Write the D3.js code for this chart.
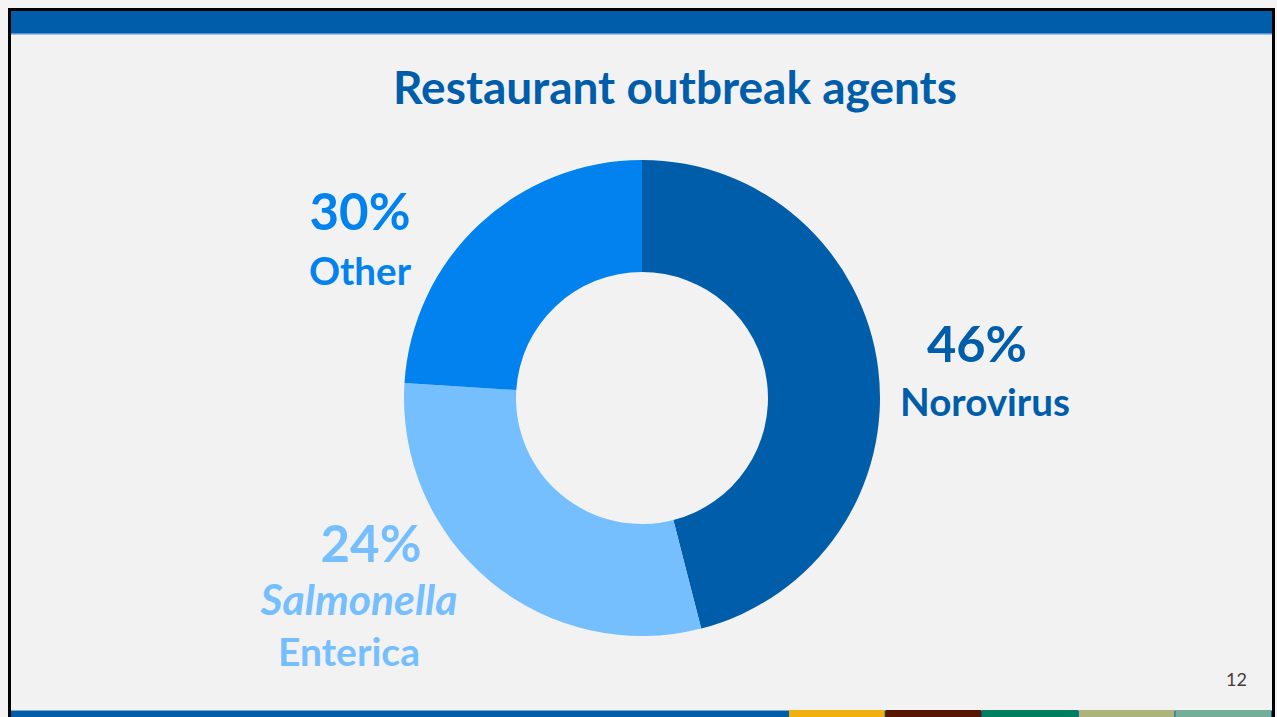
<!DOCTYPE html>
<html>
<head>
<meta charset="utf-8">
<script src="https://cdn.jsdelivr.net/npm/d3@7"></script>
<style>
  body { margin: 0; background: #f4f4f4; }
  svg { display: block; }
</style>
</head>
<body>
<div class="chart"></div>
<script>
let FRAME_WIDTH = 1277;
let FRAME_HEIGHT = 717;

// data
const TITLE = "Restaurant outbreak agents";
const AGENTS = ["Norovirus", "Salmonella Enterica", "Other"];
// slice sizes as they are drawn (clockwise from 12 o'clock)
const SLICE_SHARES = [46, 30, 24];
// percentages printed next to the ring
const LABEL_PCTS = ["46%", "24%", "30%"];
const PAGE_NUMBER = "12";
const FOOTER_SEGMENTS = ["blue", "yellow", "brown", "green", "olive", "teal"];

const COLORS = d3.scaleOrdinal()
                .domain(AGENTS)
                .range(["#005daa", "#75bfff", "#0282ef"]);

const FOOTER_COLORS = {blue: "#005daa", yellow: "#f0b110", brown: "#561800",
                       green: "#007e5e", olive: "#adb47a", teal: "#74ae98"};

let FRAME = d3.select(".chart")
              .append("svg")
              .attr("width", FRAME_WIDTH)
              .attr("height", FRAME_HEIGHT);

// slide body + border
FRAME.append("rect")
     .attr("x", 0).attr("y", 0)
     .attr("width", FRAME_WIDTH).attr("height", FRAME_HEIGHT)
     .attr("fill", "#f4f4f4");

FRAME.append("rect")
     .attr("x", 11).attr("y", 11)
     .attr("width", 1261).attr("height", 710)
     .attr("fill", "#f2f2f2");

// header band
FRAME.append("rect")
     .attr("x", 11).attr("y", 11)
     .attr("width", 1261).attr("height", 23)
     .attr("fill", "#005daa");
FRAME.append("rect")
     .attr("x", 11).attr("y", 33)
     .attr("width", 1261).attr("height", 1.5)
     .attr("fill", "#4f94cf");

// footer stripe
FRAME.append("rect")
     .attr("x", 11).attr("y", 711)
     .attr("width", 1261).attr("height", 6)
     .attr("fill", "#005daa");
FRAME.append("rect")
     .attr("x", 11).attr("y", 710)
     .attr("width", 1261).attr("height", 1)
     .attr("fill", "#7fa9cf");

let FOOT_X = d3.scaleBand()
               .domain(FOOTER_SEGMENTS.slice(1))
               .range([789, 1272]);

FRAME.selectAll(".foot")
     .data(FOOTER_SEGMENTS.slice(1))
     .enter()
     .append("rect")
       .attr("class", "foot")
       .attr("x", (d) => FOOT_X(d))
       .attr("y", 710)
       .attr("width", FOOT_X.bandwidth() - 1)
       .attr("height", 7)
       .attr("fill", (d) => FOOTER_COLORS[d]);

// black frame lines (left, top, right)
FRAME.append("path")
     .attr("d", "M9.5,717 V9.5 H1273.5 V717")
     .attr("fill", "none")
     .attr("stroke", "#000")
     .attr("stroke-width", 3);

// shrink/grow a text node so it spans the given width
function fitWidth(sel, width) {
    sel.each(function() {
        let size = parseFloat(d3.select(this).style("font-size"));
        let w = this.getComputedTextLength();
        d3.select(this).style("font-size", (size * width / w) + "px");
    });
}

// title
FRAME.append("text")
     .attr("x", 675)
     .attr("y", 104)
     .attr("text-anchor", "middle")
     .style("font-family", "Lato, 'Open Sans', sans-serif")
     .style("font-weight", "bold")
     .style("font-size", "40px")
     .attr("fill", "#005daa")
     .text(TITLE)
     .call(fitWidth, 564);

// donut
let CX = 642, CY = 398;

let pie = d3.pie()
            .sort(null)
            .value((d) => d.share);

let arc = d3.arc()
            .innerRadius(126)
            .outerRadius(238);

let slices = AGENTS.map((a, i) => ({agent: a, share: SLICE_SHARES[i]}));

FRAME.append("g")
     .attr("transform", "translate(" + CX + "," + CY + ")")
     .selectAll("path")
     .data(pie(slices))
     .enter()
     .append("path")
       .attr("d", arc)
       .attr("fill", (d) => COLORS(d.data.agent));

// labels: each line = [text, center x, baseline, width, italic]
let LABELS = [
    {agent: "Norovirus", lines: [
        [LABEL_PCTS[0], 977, 362, 100, false],
        ["Norovirus", 985, 416, 170, false]]},
    {agent: "Salmonella Enterica", lines: [
        [LABEL_PCTS[1], 371, 562, 101, false],
        ["Salmonella", 359, 615, 197, true],
        ["Enterica", 349, 666, 142, false]]},
    {agent: "Other", lines: [
        [LABEL_PCTS[2], 360, 230, 101, false],
        ["Other", 360, 285, 102, false]]}
];

LABELS.forEach((lab) => {
    lab.lines.forEach((ln) => {
        FRAME.append("text")
             .attr("x", ln[1])
             .attr("y", ln[2])
             .attr("text-anchor", "middle")
             .style("font-family", "Lato, 'Open Sans', sans-serif")
             .style("font-weight", "bold")
             .style("font-style", ln[4] ? "italic" : "normal")
             .style("font-size", "40px")
             .attr("fill", COLORS(lab.agent))
             .text(ln[0])
             .call(fitWidth, ln[3]);
    });
});

// page number
FRAME.append("text")
     .attr("x", 1247)
     .attr("y", 686)
     .attr("text-anchor", "end")
     .style("font-family", "Lato, 'Open Sans', sans-serif")
     .style("font-size", "18px")
     .attr("fill", "#404040")
     .text(PAGE_NUMBER);
</script>
</body>
</html>
